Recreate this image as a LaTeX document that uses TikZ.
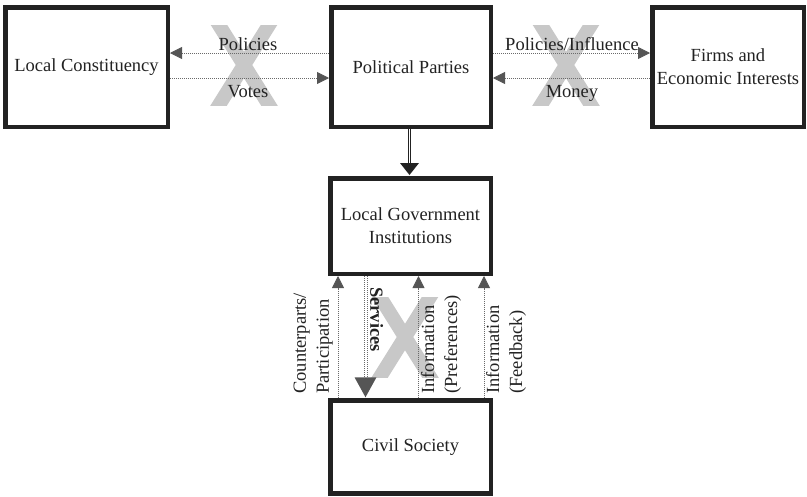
\documentclass[tikz,border=0pt]{standalone}
\usepackage{fontspec}
\setmainfont{Liberation Serif}
\usetikzlibrary{arrows.meta,calc}
\definecolor{boxline}{HTML}{222222}
\definecolor{xgray}{HTML}{C8C8C8}
\definecolor{arrgray}{HTML}{555555}
\definecolor{dotgray}{HTML}{6A6A6A}
\begin{document}
\begin{tikzpicture}[x=1pt,y=-1pt,
  box/.style={draw=boxline, line width=4.5pt, outer sep=2.25pt, inner sep=0pt, align=center, text=boxline, font=\fontsize{18.5pt}{23pt}\selectfont},
  lbl/.style={inner sep=0pt, text=boxline, font=\fontsize{18.5pt}{23pt}\selectfont},
  dotline/.style={draw=dotgray, line width=0.8pt, dash pattern=on 0.8pt off 1.2pt},
  grayhead/.style={-{Triangle[length=12pt,width=12pt,fill=arrgray,color=arrgray]}},
  bigx/.style={draw=xgray, line width=14pt},
  bigX/.pic={
    \clip (0,0) rectangle (68,80);
    \draw[bigx] (1.5,-12) -- (66.5,92);
    \draw[bigx] (66.5,-12) -- (1.5,92);
  }
]
\useasboundingbox (0,0) rectangle (807,496);

% gray crosses (behind everything)
\pic at (210,25) {bigX};
\pic at (532,25) {bigX};
\pic at (371,297) {bigX};

% boxes
\node[box, minimum width=162.5pt, minimum height=119.5pt] (lc) at (86.5,67) {Local Constituency};
\node[box, minimum width=159.5pt, minimum height=119.5pt] (pp) at (411,67) {Political Parties};
\node[box, minimum width=151.5pt, minimum height=119.5pt] (fe) at (728,67) {Firms and\\Economic Interests};
\node[box, minimum width=160.5pt, minimum height=95.5pt] (lgi) at (410.5,226) {Local Government\\Institutions};
\node[box, minimum width=160.5pt, minimum height=93pt] (cs) at (410.5,447) {Civil Society};

% helper coordinates
\coordinate (ya) at (0,53);
\coordinate (yb) at (0,78);
\coordinate (xd) at (409.5,0);
\coordinate (xcp) at (338,0);
\coordinate (xs) at (365.5,0);
\coordinate (xs1) at (364,0);
\coordinate (xs2) at (367,0);
\coordinate (xpr) at (418.5,0);
\coordinate (xfb) at (484,0);

% top connectors
\draw[dotline, grayhead] (pp.west |- ya) -- (lc.east |- ya);
\draw[dotline, grayhead] (lc.east |- yb) -- (pp.west |- yb);
\draw[dotline, grayhead] (pp.east |- ya) -- (fe.west |- ya);
\draw[dotline, grayhead] (fe.west |- yb) -- (pp.east |- yb);

\node[lbl, anchor=base] (tpol) at (248,50) {Policies};
\node[lbl, anchor=base] (tvot) at (248,97) {Votes};
\node[lbl, anchor=base] (tpi) at (572,50) {Policies/Influence};
\node[lbl, anchor=base] (tmon) at (572,97) {Money};

% double arrow parties -> local government
\draw[draw=boxline, line width=0.7pt, double=white, double distance=1.4pt] (xd |- pp.south) -- ($(xd |- lgi.north)+(0,-10)$);
\fill[boxline] ($(xd |- lgi.north)+(0,-1)$) -- ++(-9.5,-12) -- ++(19,0) -- cycle;

% bottom connectors
\draw[dotline, grayhead] (xcp |- cs.north) -- (xcp |- lgi.south);
\draw[dotline, grayhead] (xpr |- cs.north) -- (xpr |- lgi.south);
\draw[dotline, grayhead] (xfb |- cs.north) -- (xfb |- lgi.south);

\draw[dotline] (xs1 |- lgi.south) -- ($(xs1 |- cs.north)+(0,-20)$);
\draw[dotline] (xs2 |- lgi.south) -- ($(xs2 |- cs.north)+(0,-20)$);
\fill[arrgray] ($(xs |- cs.north)+(0,-1)$) -- ++(-11,-20) -- ++(22,0) -- cycle;

% vertical labels
\node[lbl, rotate=90, anchor=south west, align=left] (tcp) at (333,394) {Counterparts/\\Participation};
\node[lbl, rotate=90, anchor=north west, align=left] (tpref) at (421,394) {Information\\(Preferences)};
\node[lbl, rotate=90, anchor=north west, align=left] (tfb) at (486,394) {Information\\(Feedback)};
\node[lbl, rotate=-90, anchor=south west, font=\bfseries\fontsize{18.5pt}{23pt}\selectfont] (tsv) at (370,287) {Services};
\end{tikzpicture}
\end{document}
